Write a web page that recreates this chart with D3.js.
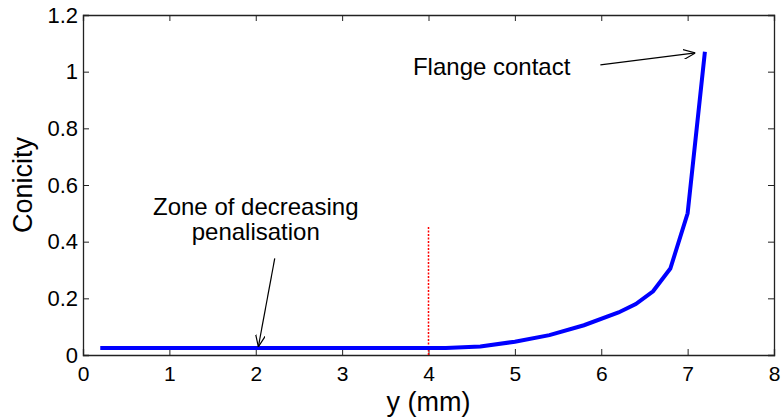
<!DOCTYPE html>
<meta charset="utf-8">
<style>
    body { margin: 0; background: #fff; }
    svg text { font-family: "Liberation Sans", Arial, sans-serif; fill: #000; }
</style>
<body>
<script src="https://cdn.jsdelivr.net/npm/d3@7"></script>
<script>
    /* data */
    var yPos = [0.2, 0.6, 1.0, 1.4, 1.8, 2.2, 2.6, 3.0, 3.4, 3.8, 4.2, 4.6, 5.0, 5.4, 5.8, 6.2, 6.4, 6.6, 6.8, 7.0, 7.2];
    var conicity = [0.025, 0.025, 0.025, 0.025, 0.025, 0.025, 0.025, 0.025, 0.025, 0.025, 0.025, 0.03, 0.047, 0.07, 0.105, 0.15, 0.18, 0.225, 0.305, 0.5, 1.07];
    var xTicks = [0, 1, 2, 3, 4, 5, 6, 7, 8];
    var yTicks = [0, 0.2, 0.4, 0.6, 0.8, 1, 1.2];
    var limitX = 4, limitTop = 0.455;

    var w = 781, h = 419;
    var padLeft = 83, padRight = 774, padTop = 15, padBottom = 355;

    var svg = d3.select("body").append("svg")
        .attr("width", w)
        .attr("height", h);

    var xScale = d3.scaleLinear().domain([0, 8]).range([padLeft, padRight]);
    var yScale = d3.scaleLinear().domain([0, 1.2]).range([padBottom, padTop]);

    // arrow head, open chevron like matlab
    svg.append("defs").append("marker")
        .attr("id", "arr")
        .attr("viewBox", "0 0 12 10")
        .attr("refX", 12).attr("refY", 5)
        .attr("markerWidth", 12).attr("markerHeight", 10)
        .attr("markerUnits", "userSpaceOnUse")
        .attr("orient", "auto")
        .append("path")
        .attr("d", "M0,0 L12,5 L0,10")
        .attr("fill", "none")
        .attr("stroke", "#000")
        .attr("stroke-width", 1.2);

    // axes with inward ticks
    var xAxis = d3.axisBottom(xScale).tickValues(xTicks).tickSize(-6).tickPadding(11).tickFormat(d3.format("d"));
    var yAxis = d3.axisLeft(yScale).tickValues(yTicks).tickSize(-6).tickPadding(5).tickFormat(function (d) { return d; });
    var xTop = d3.axisTop(xScale).tickValues(xTicks).tickSize(-6).tickFormat("");
    var yRight = d3.axisRight(yScale).tickValues(yTicks).tickSize(-6).tickFormat("");

    var gx = svg.append("g").attr("transform", "translate(0," + padBottom + ")").call(xAxis);
    var gy = svg.append("g").attr("transform", "translate(" + padLeft + ",0)").call(yAxis);
    var gt = svg.append("g").attr("transform", "translate(0," + padTop + ")").call(xTop);
    var gr = svg.append("g").attr("transform", "translate(" + padRight + ",0)").call(yRight);

    [gx, gy, gt, gr].forEach(function (g) {
        g.select(".domain").attr("stroke", "#222").attr("stroke-width", 1.3);
        g.selectAll(".tick line").attr("stroke", "#222");
    });
    gx.selectAll("text").attr("font-size", 21).attr("font-family", "Liberation Sans, Arial, sans-serif").attr("fill", "#000");
    gy.selectAll("text").attr("font-size", 22).attr("font-family", "Liberation Sans, Arial, sans-serif").attr("fill", "#000");

    // red dotted limit
    svg.append("line")
        .attr("x1", xScale(limitX)).attr("x2", xScale(limitX))
        .attr("y1", yScale(0)).attr("y2", yScale(limitTop))
        .attr("stroke", "#ff0000")
        .attr("stroke-width", 1.5)
        .attr("stroke-dasharray", "2,1.5");

    // the curve
    var pts = yPos.map(function (d, i) { return [d, conicity[i]]; });
    var line = d3.line()
        .x(function (d) { return xScale(d[0]); })
        .y(function (d) { return yScale(d[1]); });
    svg.append("path")
        .attr("d", line(pts))
        .attr("fill", "none")
        .attr("stroke", "#0000ff")
        .attr("stroke-width", 4);

    // annotations
    svg.append("text")
        .attr("x", xScale(3.82)).attr("y", yScale(0.99))
        .attr("font-size", 24)
        .text("Flange contact");
    svg.append("line")
        .attr("x1", xScale(5.99)).attr("y1", yScale(1.024))
        .attr("x2", xScale(7.09)).attr("y2", yScale(1.066))
        .attr("stroke", "#000").attr("stroke-width", 1.2)
        .attr("marker-end", "url(#arr)");

    svg.append("text")
        .attr("x", xScale(2.0)).attr("y", yScale(0.494))
        .attr("text-anchor", "middle").attr("font-size", 24)
        .text("Zone of decreasing");
    svg.append("text")
        .attr("x", xScale(2.0)).attr("y", yScale(0.406))
        .attr("text-anchor", "middle").attr("font-size", 24)
        .text("penalisation");
    svg.append("line")
        .attr("x1", xScale(2.22)).attr("y1", yScale(0.341))
        .attr("x2", xScale(2.03)).attr("y2", yScale(0.029))
        .attr("stroke", "#000").attr("stroke-width", 1.2)
        .attr("marker-end", "url(#arr)");

    // axis titles
    svg.append("text")
        .attr("x", (padLeft + padRight) / 2).attr("y", 411)
        .attr("text-anchor", "middle").attr("font-size", 27)
        .text("y (mm)");
    svg.append("text")
        .attr("transform", "translate(32," + (padTop + padBottom) / 2 + ") rotate(-90)")
        .attr("text-anchor", "middle").attr("font-size", 27)
        .text("Conicity");
</script>
</body>
